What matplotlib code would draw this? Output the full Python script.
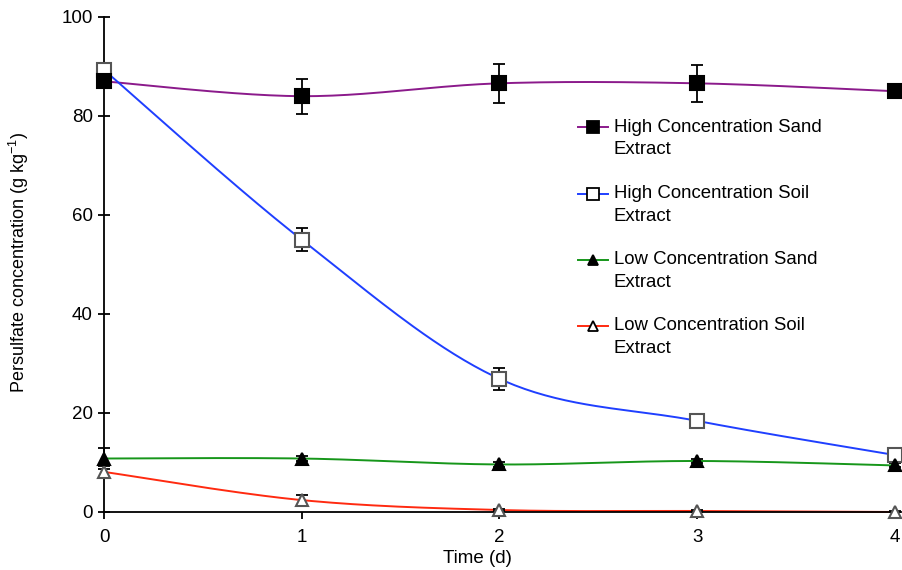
import numpy as np
import matplotlib
matplotlib.use("Agg")
import matplotlib.pyplot as plt
from matplotlib.lines import Line2D
from matplotlib.legend_handler import HandlerLine2D

plt.rcParams['font.family'] = ['Liberation Sans', 'DejaVu Sans']
plt.rcParams['mathtext.fontset'] = 'custom'
plt.rcParams['mathtext.rm'] = 'Liberation Sans'
plt.rcParams['mathtext.default'] = 'rm'

time_d = [0, 1, 2, 3, 4]

high_sand = [87.0, 84.0, 86.6, 86.6, 85.0]
high_sand_err = [0.8, 3.5, 4.0, 3.7, 0.6]

high_soil = [89.3, 55.0, 26.9, 18.4, 11.5]
high_soil_err = [0.8, 2.3, 2.2, 1.0, 0.8]

low_sand = [10.8, 10.8, 9.6, 10.3, 9.4]
low_sand_err = [2.2, 0.6, 0.5, 0.5, 0.4]

low_soil = [8.1, 2.4, 0.4, 0.2, 0.0]
low_soil_err = [1.2, 1.0, 0.2, 0.2, 0.1]

labels = ["High Concentration Sand\nExtract",
          "High Concentration Soil\nExtract",
          "Low Concentration Sand\nExtract",
          "Low Concentration Soil\nExtract"]
line_colors = ["#8B1A8B", "#1F3FFF", "#16961A", "#FF2A10"]
markers = ["s", "s", "^", "^"]
face_colors = ["black", "white", "black", "white"]
edge_colors = ["black", "#555555", "black", "#555555"]
marker_z = [6, 5, 6, 5]


def smooth_curve(x, y, n=40):
    """Catmull-Rom style smoothing through every point (office-chart smoothing)."""
    x = np.asarray(x, float)
    y = np.asarray(y, float)
    px = np.concatenate([[x[0]], x, [x[-1]]])
    py = np.concatenate([[y[0]], y, [y[-1]]])
    xs, ys = [], []
    for i in range(1, len(px) - 2):
        p0 = np.array([px[i], py[i]])
        p3 = np.array([px[i + 1], py[i + 1]])
        c1 = p0 + (np.array([px[i + 1], py[i + 1]]) - np.array([px[i - 1], py[i - 1]])) / 6
        c2 = p3 - (np.array([px[i + 2], py[i + 2]]) - np.array([px[i], py[i]])) / 6
        t = np.linspace(0, 1, n)[:, None]
        pts = ((1 - t) ** 3) * p0 + 3 * ((1 - t) ** 2) * t * c1 + 3 * (1 - t) * t ** 2 * c2 + t ** 3 * p3
        xs.append(pts[:, 0])
        ys.append(pts[:, 1])
    return np.concatenate(xs), np.concatenate(ys)


class FirstLineHandler(HandlerLine2D):
    """Legend handle aligned with the first line of a two-line label."""
    def __init__(self, raise_pt, **kw):
        super().__init__(**kw)
        self.raise_pt = raise_pt

    def create_artists(self, legend, orig_handle, xdescent, ydescent, width, height,
                       fontsize, trans):
        return super().create_artists(legend, orig_handle, xdescent,
                                      ydescent - 2 * self.raise_pt, width, height,
                                      fontsize, trans)


fig = plt.figure(figsize=(9.02, 5.70), dpi=100)
ax = fig.add_axes([0.1153, 0.1018, 0.8835, 0.8684])

series = [(high_sand, high_sand_err), (high_soil, high_soil_err),
          (low_sand, low_sand_err), (low_soil, low_soil_err)]

handles = []
for k, (vals, errs) in enumerate(series):
    sx, sy = smooth_curve(time_d, vals)
    ax.plot(sx, sy, color=line_colors[k], lw=1.4, zorder=2, clip_on=False)
    ax.errorbar(time_d, vals, yerr=errs, fmt='none', ecolor='black',
                elinewidth=1.3, capsize=4, capthick=1.3, zorder=3, clip_on=False)
    ax.plot(time_d, vals, linestyle='none', marker=markers[k], ms=10 if markers[k] == 's' else 9,
            mfc=face_colors[k], mec=edge_colors[k], mew=1.5, zorder=marker_z[k], clip_on=False)
    handles.append(Line2D([0], [0], color=line_colors[k], lw=1.4, marker=markers[k],
                          ms=8 if markers[k] == 's' else 7.5, mfc=face_colors[k],
                          mec='black', mew=1.3))

ax.set_xlim(0, 4.03)
ax.set_ylim(0, 100)
ax.set_xticks([0, 1, 2, 3, 4])
ax.set_yticks([0, 20, 40, 60, 80, 100])
ax.spines['top'].set_visible(False)
ax.spines['right'].set_visible(False)
for s in ('left', 'bottom'):
    ax.spines[s].set_linewidth(1.3)
ax.tick_params(axis='y', direction='inout', length=8, width=1.3, labelsize=13.5, pad=4)
ax.tick_params(axis='x', direction='out', length=5, width=1.3, labelsize=13.5, pad=7)

ax.set_xlabel("Time (d)", fontsize=13.5)
ax.xaxis.set_label_coords(0.468, -0.077)
ax.set_ylabel("Persulfate concentration (g kg$^{-1}$)", fontsize=13.0)
ax.yaxis.set_label_coords(-0.092, 0.505)

leg = fig.legend(handles, labels, loc='upper left', bbox_to_anchor=(0.641, 0.792), frameon=False,
                 fontsize=13.4, handlelength=1.6, handletextpad=0.32, labelspacing=1.42,
                 borderpad=0, borderaxespad=0,
                 handler_map={Line2D: FirstLineHandler(8.0)})
for txt in leg.get_texts():
    txt.set_linespacing(1.45)

fig.savefig("out.png", dpi=100)
